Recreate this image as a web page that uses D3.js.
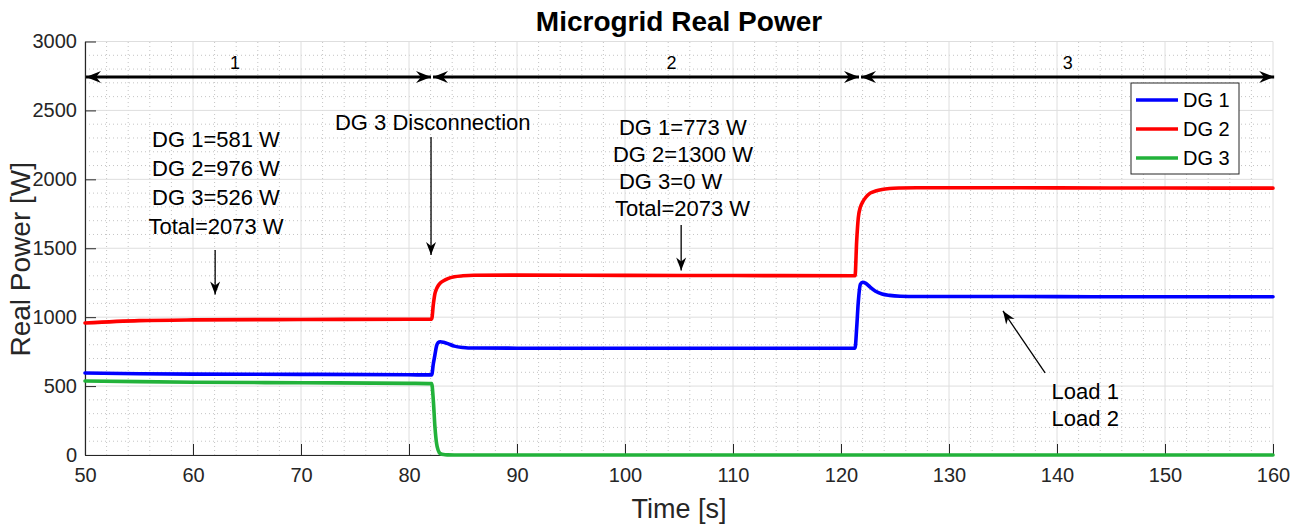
<!DOCTYPE html>
<html>
<head>
<meta charset="utf-8">
<script src="https://cdn.jsdelivr.net/npm/d3@7"></script>
<style>
  html, body { margin: 0; padding: 0; background: #fff; }
  svg { display: block; font-family: "Liberation Sans", Arial, sans-serif; }
</style>
</head>
<body>
<svg id="chart" width="1310" height="524"></svg>
<script>
// ---------------- DATA ----------------
const time = [50, 55, 60, 70, 80, 82.1, 82.25, 82.4, 82.55, 82.7, 82.9, 83.2, 83.6, 84.2, 85, 86, 90, 100, 110,
              121.3, 121.45, 121.6, 121.8, 122.0, 122.3, 122.7, 123.2, 123.8, 124.5, 125.5, 127, 130, 140, 150, 160];
const dg1 = [595, 590, 587, 585, 582, 581, 660, 726, 791, 815, 822, 818, 808, 790, 780, 776, 775, 775, 775,
             775, 920, 1110, 1240, 1253, 1245, 1218, 1188, 1168, 1158, 1152, 1150, 1150, 1149, 1148, 1148];
const dg2 = [958, 975, 980, 983, 985, 986, 1090, 1170, 1205, 1228, 1248, 1264, 1280, 1293, 1300, 1304, 1305, 1303, 1302,
             1300, 1550, 1720, 1800, 1835, 1870, 1900, 1915, 1926, 1933, 1937, 1939, 1939, 1938, 1937, 1936];
const dg3 = [537, 532, 528, 524, 520, 518, 399, 206, 85, 35, 10, 3, 1, 0, 0, 0, 0, 0, 0,
             0, 0, 0, 0, 0, 0, 0, 0, 0, 0, 0, 0, 0, 0, 0, 0];
const seriesNames = ["DG 1", "DG 2", "DG 3"];
const seriesColors = ["#0000ff", "#ff0000", "#22b23a"];
const xTicks = [50, 60, 70, 80, 90, 100, 110, 120, 130, 140, 150, 160];
const yTicks = [0, 500, 1000, 1500, 2000, 2500, 3000];
const stageBounds = [50, 82.13, 121.76, 160.2];
const stageLabels = ["1", "2", "3"];
const stageLabelT = [63.9, 104.3, 141.0];
const stageLevel = 2743;
const textLeft = ["DG 1=581 W", "DG 2=976 W", "DG 3=526 W", "Total=2073 W"];
const textMid = ["DG 1=773 W", "DG 2=1300 W", "DG 3=0 W", "Total=2073 W"];
const textLoad = ["Load 1", "Load 2"];

// ---------------- LAYOUT ----------------
const W = 1310, H = 524;
const m = { left: 85, right: 37, top: 41.5, bottom: 69 };
const svg = d3.select("#chart");
const x = d3.scaleLinear().domain([50, 160]).range([m.left, W - m.right]);
const y = d3.scaleLinear().domain([0, 3000]).range([H - m.bottom, m.top]);
const axisColor = "#262626";

// grid
const g = svg.append("g");
const minorX = d3.range(50, 160.001, 2).filter(v => v % 10 !== 0);
const minorY = d3.range(0, 3000.001, 100).filter(v => v % 500 !== 0);
g.selectAll(".mx").data(minorX).enter().append("line")
  .attr("x1", d => x(d)).attr("x2", d => x(d)).attr("y1", y(0)).attr("y2", y(3000))
  .attr("stroke", "#c4c4c4").attr("stroke-width", 1).attr("stroke-dasharray", "1,3");
g.selectAll(".my").data(minorY).enter().append("line")
  .attr("x1", x(50)).attr("x2", x(160)).attr("y1", d => y(d)).attr("y2", d => y(d))
  .attr("stroke", "#c4c4c4").attr("stroke-width", 1).attr("stroke-dasharray", "1,3");
g.selectAll(".Mx").data(xTicks).enter().append("line")
  .attr("x1", d => x(d)).attr("x2", d => x(d)).attr("y1", y(0)).attr("y2", y(3000))
  .attr("stroke", "#dedede").attr("stroke-width", 1);
g.selectAll(".My").data(yTicks).enter().append("line")
  .attr("x1", x(50)).attr("x2", x(160)).attr("y1", d => y(d)).attr("y2", d => y(d))
  .attr("stroke", "#dedede").attr("stroke-width", 1);

// axes
const xAxis = d3.axisBottom(x).tickValues(xTicks).tickFormat(d3.format("d")).tickSizeInner(-11).tickSizeOuter(0);
const yAxis = d3.axisLeft(y).tickValues(yTicks).tickFormat(d3.format("d")).tickSizeInner(-11).tickSizeOuter(0);
const gx = svg.append("g").attr("transform", `translate(0,${y(0)})`).call(xAxis);
const gy = svg.append("g").attr("transform", `translate(${x(50)},0)`).call(yAxis);
[gx, gy].forEach(a => {
  a.select(".domain").attr("stroke", axisColor).attr("stroke-width", 1.2);
  a.selectAll(".tick line").attr("stroke", axisColor).attr("stroke-width", 1);
  a.selectAll(".tick text").attr("fill", axisColor).attr("font-size", 20)
    .attr("font-family", "Liberation Sans, Arial, sans-serif");
});
gx.selectAll(".tick text").attr("dy", "0.71em").attr("y", 13);
gy.selectAll(".tick text").attr("x", -8);

// series
const line = d3.line().x((d, i) => x(time[i])).y(d => y(d)).curve(d3.curveMonotoneX);
[dg3, dg2, dg1].forEach((s, k) => {
  const idx = 2 - k;
  svg.append("path").datum(s).attr("d", line).attr("fill", "none")
    .attr("stroke", seriesColors[idx]).attr("stroke-width", 3.6)
    .attr("stroke-linejoin", "round").attr("stroke-linecap", "round");
});

// markers
const defs = svg.append("defs");
defs.append("marker").attr("id", "bigHead").attr("viewBox", "-16 -7 17 14")
  .attr("refX", 0).attr("refY", 0).attr("markerWidth", 17).attr("markerHeight", 14)
  .attr("markerUnits", "userSpaceOnUse").attr("orient", "auto-start-reverse")
  .append("path").attr("d", "M0,0 L-15,-6 L-10,0 L-15,6 Z").attr("fill", "#000");
defs.append("marker").attr("id", "smallHead").attr("viewBox", "-14 -6 15 12")
  .attr("refX", 0).attr("refY", 0).attr("markerWidth", 15).attr("markerHeight", 12)
  .attr("markerUnits", "userSpaceOnUse").attr("orient", "auto")
  .append("path").attr("d", "M0,0 L-13,-5 L-9,0 L-13,5 Z").attr("fill", "#000");

// stage arrows
for (let i = 0; i < 3; i++) {
  svg.append("line")
    .attr("x1", x(stageBounds[i]) + 1).attr("x2", x(stageBounds[i + 1]) - 1)
    .attr("y1", y(stageLevel)).attr("y2", y(stageLevel))
    .attr("stroke", "#000").attr("stroke-width", 3)
    .attr("marker-start", "url(#bigHead)").attr("marker-end", "url(#bigHead)");
  svg.append("text").attr("x", x(stageLabelT[i])).attr("y", y(stageLevel) - 8)
    .attr("text-anchor", "middle").attr("font-size", 18).attr("fill", "#000").text(stageLabels[i]);
}

// annotations (data-anchored)
function arrow(t1, v1, t2, v2) {
  svg.append("line").attr("x1", x(t1)).attr("y1", y(v1)).attr("x2", x(t2)).attr("y2", y(v2))
    .attr("stroke", "#000").attr("stroke-width", 1.3).attr("marker-end", "url(#smallHead)");
}
function block(lines, t, v, anchor, spacing, offsets) {
  lines.forEach((s, i) => {
    svg.append("text")
      .attr("x", x(t) + (offsets ? offsets[i] : 0)).attr("y", y(v) + i * spacing)
      .attr("text-anchor", anchor).attr("dominant-baseline", "central")
      .attr("font-size", 22).attr("fill", "#000").text(s);
  });
}
block(textLeft, 62.13, 2286, "middle", 29);
arrow(62.05, 1488, 62.05, 1165);
block(["DG 3 Disconnection"], 82.2, 2409, "middle", 0);
arrow(82.04, 2308, 82.04, 1451);
block(textMid, 99.44, 2378, "start", 27, [0, -6, 0, -4]);
arrow(105.2, 1669, 105.2, 1338);
block(textLoad, 139.5, 460, "start", 26.5);
arrow(138.9, 595, 135.0, 1045);

// legend
const lg = svg.append("g").attr("transform", "translate(1131,83)");
lg.append("rect").attr("width", 108).attr("height", 91).attr("fill", "#fff")
  .attr("stroke", "#262626").attr("stroke-width", 1);
seriesNames.forEach((n, i) => {
  const yy = 17 + i * 29;
  lg.append("line").attr("x1", 5).attr("x2", 47).attr("y1", yy).attr("y2", yy)
    .attr("stroke", seriesColors[i]).attr("stroke-width", 3.6);
  lg.append("text").attr("x", 52).attr("y", yy).attr("dominant-baseline", "central")
    .attr("font-size", 20).attr("fill", "#000").text(n);
});

// titles
svg.append("text").attr("x", x(105)).attr("y", 31).attr("text-anchor", "middle")
  .attr("font-size", 28).attr("font-weight", "bold").attr("fill", "#000").text("Microgrid Real Power");
svg.append("text").attr("x", x(105)).attr("y", 518).attr("text-anchor", "middle")
  .attr("font-size", 27).attr("fill", axisColor).text("Time [s]");
svg.append("text").attr("transform", `translate(30,${y(1420)}) rotate(-90)`).attr("text-anchor", "middle")
  .attr("font-size", 28).attr("fill", axisColor).text("Real Power [W]");
</script>
</body>
</html>
